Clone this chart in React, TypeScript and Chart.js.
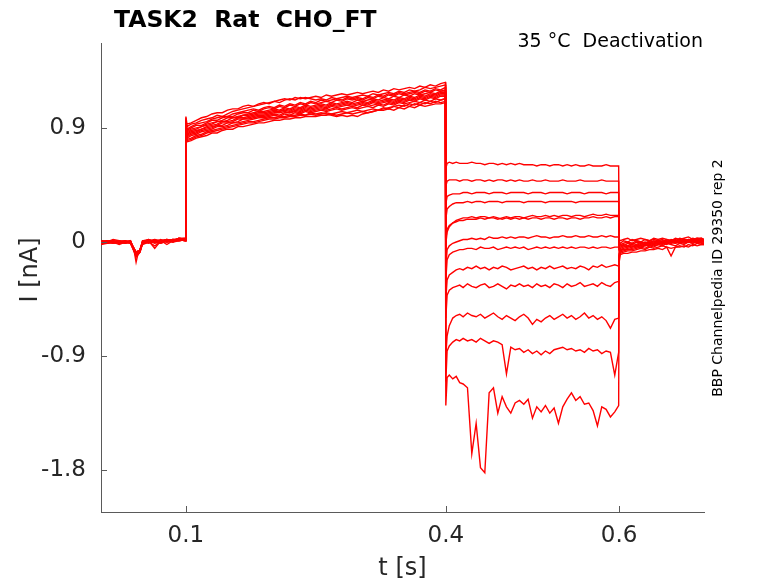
import React, { useEffect, useRef } from "react";
import Chart from "chart.js/auto";

// sample times (s) for the four protocol segments
const tPre = [
  0.002, 0.009, 0.016, 0.023, 0.03, 0.036, 0.04, 0.0425, 0.0445,
  0.047, 0.05, 0.057, 0.064, 0.071, 0.078, 0.085, 0.092, 0.0995,
];
const tStep = [
  0.1, 0.1012, 0.106, 0.112, 0.118, 0.124, 0.13, 0.136, 0.142, 0.148, 0.154, 0.16, 0.166,
  0.172, 0.178, 0.184, 0.19, 0.196, 0.202, 0.208, 0.214, 0.22, 0.226, 0.232, 0.238, 0.244,
  0.25, 0.256, 0.262, 0.268, 0.274, 0.28, 0.286, 0.292, 0.298, 0.304, 0.31, 0.316, 0.322,
  0.328, 0.334, 0.34, 0.346, 0.352, 0.358, 0.364, 0.37, 0.376, 0.382, 0.388, 0.394, 0.3995,
];
const tTail = [
  0.4, 0.4015, 0.404, 0.408, 0.412, 0.416, 0.42,
  0.425, 0.43, 0.435, 0.44, 0.445, 0.45, 0.455, 0.46, 0.465, 0.47, 0.475, 0.48,
  0.485, 0.49, 0.495, 0.5, 0.505, 0.51, 0.515, 0.52, 0.525, 0.53, 0.535, 0.54,
  0.545, 0.55, 0.555, 0.56, 0.565, 0.57, 0.575, 0.58, 0.585, 0.59, 0.595, 0.5995,
];
const tPost = [
  0.6, 0.6015, 0.605, 0.61, 0.615, 0.62, 0.625, 0.63, 0.635, 0.64,
  0.645, 0.65, 0.655, 0.66, 0.665, 0.67, 0.675, 0.68, 0.685, 0.69, 0.695, 0.698,
];

// current (nA), one row per sweep
const preCurrent = [
  [0.01, 0.0, 0.02, 0.01, 0.0, 0.01, -0.06, -0.16, -0.1, -0.08, 0.0, 0.01, 0.02, 0.01, 0.02, 0.01, 0.03, 0.02],
  [0.0, 0.01, -0.01, 0.0, 0.01, -0.01, -0.07, -0.11, -0.09, -0.07, -0.01, 0.0, -0.03, 0.0, 0.01, 0.02, 0.02, 0.01],
  [-0.01, 0.0, 0.01, -0.01, 0.0, 0.0, -0.05, -0.09, -0.08, -0.06, 0.01, 0.02, 0.0, 0.02, 0.0, 0.01, 0.03, 0.03],
  [0.01, -0.01, 0.0, 0.0, -0.01, 0.01, -0.06, -0.1, -0.08, -0.07, 0.0, -0.01, 0.01, -0.01, 0.01, 0.0, 0.01, 0.02],
  [0.0, 0.01, 0.0, 0.01, 0.0, -0.01, -0.05, -0.08, -0.09, -0.06, -0.01, 0.01, 0.0, 0.01, -0.02, 0.01, 0.02, 0.01],
  [-0.01, -0.01, 0.0, -0.02, 0.0, 0.0, -0.07, -0.12, -0.1, -0.08, 0.0, 0.0, 0.01, 0.0, 0.01, 0.02, 0.01, 0.02],
  [0.0, 0.0, -0.01, 0.0, 0.01, 0.0, -0.06, -0.09, -0.08, -0.07, 0.01, 0.01, -0.05, 0.01, 0.0, 0.01, 0.02, 0.03],
  [0.01, 0.0, 0.0, 0.01, -0.01, 0.0, -0.05, -0.08, -0.09, -0.06, 0.0, 0.02, 0.0, 0.01, 0.02, 0.0, 0.02, 0.01],
  [-0.02, -0.01, 0.0, -0.01, 0.0, 0.01, -0.06, -0.1, -0.07, -0.07, -0.02, 0.0, 0.01, 0.0, 0.01, 0.01, 0.01, 0.02],
  [0.0, 0.01, 0.01, 0.0, 0.0, -0.01, -0.07, -0.09, -0.08, -0.06, 0.0, 0.01, 0.0, -0.01, 0.01, 0.02, 0.02, 0.02],
  [-0.01, 0.0, -0.01, 0.0, 0.01, 0.0, -0.05, -0.08, -0.07, -0.07, 0.01, 0.0, 0.01, 0.01, 0.0, 0.01, 0.03, 0.02],
  [0.01, 0.0, 0.0, -0.01, 0.0, 0.01, -0.06, -0.11, -0.09, -0.08, -0.01, 0.01, -0.01, 0.0, 0.02, 0.01, 0.02, 0.01],
  [0.0, -0.01, 0.01, 0.0, -0.01, 0.0, -0.05, -0.09, -0.1, -0.06, 0.0, 0.0, 0.0, 0.01, 0.01, 0.0, 0.02, 0.02],
];

const stepCurrent = [
  [0.99, 0.93, 0.94, 0.96, 0.98, 0.99, 1.01, 1.02, 1.02, 1.04, 1.05, 1.05, 1.07,
   1.08, 1.07, 1.09, 1.1, 1.09, 1.11, 1.1, 1.12, 1.13, 1.12, 1.14, 1.13, 1.14,
   1.15, 1.14, 1.16, 1.15, 1.16, 1.17, 1.16, 1.17, 1.18, 1.17, 1.18, 1.19, 1.18,
   1.2, 1.19, 1.21, 1.2, 1.21, 1.22, 1.21, 1.23, 1.22, 1.24, 1.23, 1.25, 1.26],
  [0.97, 0.91, 0.93, 0.94, 0.96, 0.97, 0.98, 1.0, 0.99, 1.01, 1.03, 1.04, 1.05,
   1.06, 1.07, 1.08, 1.09, 1.1, 1.11, 1.12, 1.13, 1.12, 1.14, 1.13, 1.14, 1.13,
   1.12, 1.13, 1.12, 1.14, 1.13, 1.14, 1.15, 1.14, 1.15, 1.16, 1.15, 1.17, 1.16,
   1.17, 1.18, 1.17, 1.19, 1.18, 1.2, 1.19, 1.2, 1.22, 1.21, 1.22, 1.23, 1.24],
  [0.95, 0.89, 0.91, 0.93, 0.94, 0.95, 0.97, 0.98, 0.99, 0.99, 1.01, 1.02, 1.03,
   1.04, 1.05, 1.04, 1.06, 1.07, 1.06, 1.08, 1.07, 1.09, 1.08, 1.1, 1.09, 1.11,
   1.1, 1.12, 1.11, 1.12, 1.13, 1.12, 1.14, 1.13, 1.14, 1.13, 1.15, 1.14, 1.16,
   1.15, 1.17, 1.16, 1.18, 1.17, 1.18, 1.19, 1.18, 1.2, 1.19, 1.21, 1.2, 1.22],
  [0.98, 0.88, 0.9, 0.92, 0.92, 0.94, 0.96, 0.96, 0.98, 0.99, 0.99, 1.01, 1.02,
   1.02, 1.04, 1.03, 1.05, 1.06, 1.05, 1.07, 1.06, 1.08, 1.07, 1.09, 1.08, 1.1,
   1.09, 1.1, 1.11, 1.1, 1.12, 1.11, 1.13, 1.12, 1.13, 1.12, 1.14, 1.13, 1.15,
   1.14, 1.16, 1.15, 1.17, 1.16, 1.17, 1.18, 1.17, 1.19, 1.18, 1.2, 1.19, 1.2],
  [0.94, 0.87, 0.89, 0.9, 0.91, 0.93, 0.94, 0.95, 0.96, 0.98, 0.98, 0.99, 1.0,
   1.01, 1.02, 1.03, 1.03, 1.04, 1.05, 1.04, 1.06, 1.05, 1.07, 1.06, 1.08, 1.07,
   1.08, 1.09, 1.08, 1.1, 1.09, 1.1, 1.11, 1.1, 1.12, 1.11, 1.12, 1.13, 1.12,
   1.14, 1.13, 1.15, 1.14, 1.16, 1.15, 1.17, 1.16, 1.17, 1.18, 1.17, 1.19, 1.19],
  [0.96, 0.86, 0.88, 0.89, 0.91, 0.92, 0.93, 0.95, 0.95, 0.96, 0.98, 0.98, 1.0,
   1.0, 1.01, 1.02, 1.02, 1.03, 1.04, 1.03, 1.05, 1.04, 1.06, 1.05, 1.07, 1.06,
   1.07, 1.08, 1.07, 1.09, 1.08, 1.09, 1.1, 1.09, 1.1, 1.11, 1.1, 1.12, 1.11,
   1.12, 1.13, 1.12, 1.14, 1.13, 1.15, 1.14, 1.16, 1.15, 1.17, 1.16, 1.18, 1.18],
  [0.93, 0.85, 0.87, 0.88, 0.89, 0.91, 0.92, 0.93, 0.95, 0.95, 0.96, 0.98, 0.98,
   0.99, 1.0, 1.01, 1.01, 1.02, 1.03, 1.03, 1.04, 1.03, 1.05, 1.04, 1.06, 1.05,
   1.06, 1.07, 1.06, 1.08, 1.07, 1.08, 1.09, 1.08, 1.09, 1.1, 1.09, 1.11, 1.1,
   1.11, 1.12, 1.11, 1.13, 1.12, 1.14, 1.13, 1.15, 1.14, 1.16, 1.15, 1.17, 1.17],
  [0.95, 0.84, 0.86, 0.87, 0.89, 0.9, 0.91, 0.92, 0.94, 0.94, 0.95, 0.97, 0.97,
   0.98, 0.99, 1.0, 1.0, 1.01, 1.02, 1.02, 1.03, 1.02, 1.04, 1.03, 1.05, 1.04,
   1.05, 1.06, 1.05, 1.07, 1.06, 1.07, 1.08, 1.07, 1.08, 1.09, 1.08, 1.1, 1.09,
   1.1, 1.11, 1.1, 1.12, 1.11, 1.13, 1.12, 1.14, 1.13, 1.15, 1.14, 1.16, 1.16],
  [0.92, 0.83, 0.85, 0.86, 0.88, 0.89, 0.9, 0.92, 0.92, 0.94, 0.94, 0.95, 0.97,
   0.97, 0.98, 0.99, 0.99, 1.0, 1.01, 1.0, 1.02, 1.02, 1.03, 1.02, 1.04, 1.03,
   1.04, 1.05, 1.04, 1.05, 1.06, 1.05, 1.06, 1.07, 1.06, 1.08, 1.07, 1.08, 1.09,
   1.08, 1.1, 1.09, 1.11, 1.1, 1.12, 1.11, 1.13, 1.12, 1.14, 1.13, 1.15, 1.15],
  [0.94, 0.82, 0.84, 0.85, 0.87, 0.88, 0.89, 0.91, 0.91, 0.92, 0.94, 0.94, 0.95,
   0.96, 0.97, 0.98, 0.98, 0.99, 1.0, 0.99, 1.01, 1.0, 1.02, 1.01, 1.03, 1.02,
   1.03, 1.04, 1.03, 1.04, 1.05, 1.04, 1.05, 1.06, 1.05, 1.06, 1.07, 1.06, 1.08,
   1.07, 1.09, 1.08, 1.1, 1.09, 1.1, 1.11, 1.1, 1.12, 1.11, 1.13, 1.12, 1.13],
  [0.91, 0.81, 0.82, 0.84, 0.85, 0.87, 0.88, 0.89, 0.9, 0.91, 0.92, 0.93, 0.94,
   0.95, 0.95, 0.96, 0.97, 0.98, 0.98, 0.99, 0.99, 1.0, 1.0, 1.01, 1.0, 1.02,
   1.01, 1.02, 1.01, 1.0, 0.99, 1.0, 0.99, 1.0, 0.99, 1.01, 1.02, 1.03, 1.04,
   1.05, 1.06, 1.07, 1.08, 1.07, 1.09, 1.08, 1.1, 1.09, 1.11, 1.1, 1.12, 1.13],
  [0.93, 0.8, 0.81, 0.83, 0.84, 0.86, 0.87, 0.88, 0.89, 0.9, 0.91, 0.92, 0.93,
   0.94, 0.94, 0.95, 0.96, 0.97, 0.97, 0.98, 0.98, 0.99, 0.99, 1.0, 1.0, 1.01,
   1.0, 1.01, 1.02, 1.01, 1.02, 1.03, 1.02, 1.03, 1.04, 1.03, 1.04, 1.05, 1.04,
   1.06, 1.05, 1.07, 1.06, 1.08, 1.07, 1.09, 1.08, 1.1, 1.09, 1.11, 1.1, 1.11],
  [0.9, 0.79, 0.8, 0.82, 0.83, 0.84, 0.86, 0.86, 0.88, 0.89, 0.89, 0.91, 0.91,
   0.92, 0.93, 0.94, 0.94, 0.95, 0.96, 0.96, 0.97, 0.97, 0.98, 0.98, 0.99, 0.99,
   0.99, 1.0, 1.0, 1.01, 1.0, 1.01, 1.02, 1.01, 1.02, 1.03, 1.02, 1.03, 1.04,
   1.04, 1.05, 1.04, 1.06, 1.05, 1.07, 1.06, 1.08, 1.07, 1.08, 1.09, 1.09, 1.1],
];

const tailCurrent = [
  [0.58, 0.62, 0.63, 0.62, 0.63, 0.62, 0.62,
   0.62, 0.63, 0.62, 0.62, 0.61, 0.62, 0.62, 0.61, 0.62, 0.61, 0.62, 0.61,
   0.62, 0.61, 0.61, 0.61, 0.6, 0.61, 0.61, 0.6, 0.61, 0.61, 0.6, 0.61,
   0.6, 0.61, 0.6, 0.6, 0.61, 0.6, 0.6, 0.6, 0.61, 0.6, 0.6, 0.6],
  [0.44, 0.48, 0.49, 0.49, 0.49, 0.48, 0.49,
   0.49, 0.48, 0.49, 0.49, 0.48, 0.49, 0.48, 0.49, 0.49, 0.48, 0.49, 0.48,
   0.49, 0.48, 0.48, 0.49, 0.48, 0.48, 0.49, 0.48, 0.48, 0.48, 0.49, 0.48,
   0.48, 0.48, 0.49, 0.48, 0.48, 0.48, 0.48, 0.49, 0.48, 0.48, 0.48, 0.48],
  [0.3, 0.36, 0.37, 0.38, 0.38, 0.38, 0.39,
   0.39, 0.38, 0.39, 0.39, 0.39, 0.38, 0.39, 0.39, 0.39, 0.38, 0.39, 0.39,
   0.39, 0.39, 0.38, 0.39, 0.39, 0.39, 0.38, 0.39, 0.39, 0.39, 0.39, 0.38,
   0.39, 0.39, 0.39, 0.38, 0.39, 0.39, 0.39, 0.39, 0.38, 0.39, 0.39, 0.39],
  [0.18, 0.26, 0.28, 0.3, 0.31, 0.31, 0.31,
   0.32, 0.31, 0.32, 0.32, 0.31, 0.32, 0.32, 0.32, 0.31, 0.32, 0.32, 0.32,
   0.32, 0.31, 0.32, 0.32, 0.32, 0.32, 0.31, 0.32, 0.32, 0.32, 0.32, 0.32,
   0.32, 0.31, 0.32, 0.32, 0.32, 0.32, 0.32, 0.32, 0.32, 0.32, 0.32, 0.32],
  [0.02, 0.1, 0.13, 0.15, 0.16, 0.17, 0.17,
   0.18, 0.18, 0.18, 0.19, 0.18, 0.19, 0.19, 0.18, 0.19, 0.2, 0.19, 0.2,
   0.2, 0.19, 0.2, 0.21, 0.2, 0.2, 0.21, 0.2, 0.21, 0.2, 0.21, 0.21,
   0.2, 0.21, 0.21, 0.2, 0.21, 0.22, 0.21, 0.21, 0.22, 0.21, 0.21, 0.21],
  [-0.02, 0.08, 0.12, 0.15, 0.17, 0.18, 0.19,
   0.19, 0.2, 0.19, 0.2, 0.2, 0.19, 0.2, 0.19, 0.18, 0.19, 0.18, 0.19,
   0.18, 0.19, 0.18, 0.19, 0.19, 0.18, 0.19, 0.19, 0.18, 0.19, 0.19, 0.18,
   0.19, 0.19, 0.18, 0.19, 0.19, 0.2, 0.19, 0.19, 0.2, 0.19, 0.2, 0.2],
  [-0.2, -0.06, -0.03, -0.01, 0.0, 0.01, 0.02,
   0.02, 0.03, 0.02, 0.03, 0.02, 0.04, 0.03, 0.03, 0.04, 0.03, 0.04, 0.03,
   0.04, 0.04, 0.03, 0.04, 0.05, 0.04, 0.04, 0.03, 0.04, 0.04, 0.05, 0.04,
   0.04, 0.05, 0.04, 0.04, 0.05, 0.04, 0.04, 0.05, 0.04, 0.05, 0.04, 0.04],
  [-0.3, -0.14, -0.1, -0.08, -0.07, -0.06, -0.06,
   -0.05, -0.05, -0.06, -0.04, -0.05, -0.05, -0.04, -0.06, -0.05, -0.04, -0.05, -0.04,
   -0.05, -0.04, -0.06, -0.05, -0.04, -0.05, -0.04, -0.05, -0.04, -0.05, -0.04, -0.05,
   -0.04, -0.05, -0.04, -0.04, -0.05, -0.04, -0.05, -0.04, -0.04, -0.05, -0.04, -0.04],
  [-0.45, -0.3, -0.26, -0.24, -0.22, -0.21, -0.22,
   -0.2, -0.21, -0.19, -0.21, -0.2, -0.22, -0.2, -0.21, -0.19, -0.2, -0.22, -0.21,
   -0.2, -0.19, -0.21, -0.2, -0.22, -0.2, -0.21, -0.19, -0.21, -0.2, -0.19, -0.21,
   -0.2, -0.21, -0.19, -0.2, -0.22, -0.19, -0.2, -0.18, -0.2, -0.19, -0.18, -0.19],
  [-0.6, -0.42, -0.38, -0.36, -0.35, -0.34, -0.36,
   -0.33, -0.35, -0.36, -0.34, -0.33, -0.36, -0.35, -0.33, -0.35, -0.37, -0.34, -0.35,
   -0.33, -0.35, -0.34, -0.36, -0.33, -0.35, -0.34, -0.36, -0.33, -0.34, -0.36, -0.33,
   -0.35, -0.34, -0.32, -0.35, -0.34, -0.33, -0.35, -0.32, -0.34, -0.35, -0.32, -0.31],
  [-0.9, -0.74, -0.66, -0.6, -0.58, -0.57, -0.59,
   -0.56, -0.58, -0.59, -0.57, -0.6, -0.58, -0.56, -0.59, -0.61, -0.58, -0.6, -0.62,
   -0.59, -0.57, -0.6, -0.65, -0.61, -0.63, -0.6, -0.58, -0.61, -0.59, -0.57, -0.6,
   -0.58, -0.61, -0.59, -0.56, -0.6, -0.58, -0.61, -0.59, -0.62, -0.68, -0.61, -0.6],
  [-1.1, -0.86, -0.82, -0.79, -0.77, -0.78, -0.76,
   -0.78, -0.77, -0.79, -0.76, -0.78, -0.8, -0.78, -0.79, -0.81, -1.04, -0.83, -0.85,
   -0.84, -0.87, -0.85, -0.88, -0.86, -0.89, -0.86, -0.88, -0.85, -0.84, -0.83, -0.85,
   -0.84, -0.86, -0.85, -0.87, -0.84, -0.86, -0.85, -0.88, -0.86, -0.87, -1.05, -0.87],
  [-1.29, -1.07, -1.05, -1.08, -1.06, -1.11, -1.12,
   -1.15, -1.67, -1.43, -1.78, -1.82, -1.19, -1.15, -1.35, -1.22, -1.3, -1.35, -1.27,
   -1.25, -1.28, -1.24, -1.39, -1.3, -1.34, -1.29, -1.35, -1.31, -1.43, -1.3, -1.24,
   -1.19, -1.25, -1.22, -1.28, -1.27, -1.33, -1.45, -1.3, -1.32, -1.38, -1.34, -1.29],
];

const postCurrent = [
  [0.02, 0.01, 0.02, 0.03, 0.01, 0.02, 0.03, 0.02, 0.01, 0.03, 0.02, 0.03, 0.02, 0.01, 0.03, 0.02, 0.03, 0.04, 0.02, 0.03, 0.03, 0.02],
  [0.0, -0.01, 0.01, 0.0, 0.02, 0.01, 0.0, 0.02, 0.01, 0.02, 0.01, 0.02, 0.0, 0.02, 0.01, 0.03, 0.02, 0.01, 0.03, 0.02, 0.03, 0.02],
  [-0.02, -0.02, -0.01, 0.0, -0.01, 0.01, 0.0, -0.01, 0.01, 0.0, 0.01, 0.0, 0.02, 0.01, 0.0, 0.01, 0.02, 0.01, 0.02, 0.03, 0.02, 0.01],
  [-0.03, -0.02, -0.03, -0.01, -0.02, 0.0, -0.01, 0.0, -0.01, 0.01, 0.0, 0.01, 0.0, 0.01, 0.02, 0.0, 0.01, 0.02, 0.01, 0.02, 0.01, 0.02],
  [-0.04, -0.03, -0.02, -0.03, -0.01, -0.02, 0.0, -0.01, 0.0, -0.01, 0.01, 0.0, 0.01, -0.01, 0.01, 0.02, 0.0, 0.01, 0.02, 0.01, 0.02, 0.01],
  [-0.05, -0.04, -0.03, -0.04, -0.02, -0.03, -0.01, -0.02, 0.0, -0.01, -0.01, 0.0, 0.01, 0.0, 0.01, 0.0, 0.02, 0.01, 0.0, 0.02, 0.01, 0.01],
  [-0.06, -0.05, -0.04, -0.03, -0.04, -0.02, -0.03, -0.01, -0.02, -0.01, 0.0, -0.01, 0.0, 0.01, 0.0, 0.01, 0.0, 0.02, 0.01, 0.01, 0.0, 0.01],
  [-0.07, -0.06, -0.05, -0.04, -0.03, -0.04, -0.02, -0.03, -0.01, -0.02, -0.01, 0.0, -0.01, 0.0, -0.01, 0.01, 0.0, 0.0, 0.01, 0.0, 0.01, 0.01],
  [-0.08, -0.06, -0.06, -0.05, -0.04, -0.03, -0.04, -0.02, -0.03, -0.02, -0.01, -0.02, 0.0, -0.01, 0.0, -0.01, 0.01, 0.0, -0.01, 0.01, 0.0, 0.0],
  [-0.09, -0.07, -0.06, -0.06, -0.05, -0.04, -0.04, -0.03, -0.02, -0.03, -0.02, -0.01, -0.02, 0.0, -0.01, 0.0, -0.01, 0.0, 0.01, -0.01, 0.0, 0.0],
  [-0.1, -0.08, -0.07, -0.06, -0.06, -0.05, -0.04, -0.05, -0.03, -0.04, -0.02, -0.03, -0.01, -0.02, -0.03, -0.01, -0.02, 0.0, -0.01, 0.0, -0.01, -0.01],
  [-0.11, -0.09, -0.08, -0.07, -0.07, -0.06, -0.05, -0.06, -0.04, -0.05, -0.04, -0.03, -0.04, -0.11, -0.04, -0.03, -0.04, -0.02, -0.03, -0.01, -0.02, -0.02],
  [-0.16, -0.1, -0.09, -0.09, -0.08, -0.08, -0.07, -0.07, -0.06, -0.06, -0.05, -0.06, -0.04, -0.05, -0.04, -0.04, -0.03, -0.04, -0.02, -0.03, -0.02, -0.02],
];

const xTicks = [0.1, 0.4, 0.6];
const yTicks = [-1.8, -0.9, 0, 0.9];

const FONT = "'DejaVu Sans', sans-serif";
const INK = "#262626";
const AXIS = "#5a5a5a";

const zip = (t: number[], v: number[]) =>
  v.slice(0, t.length).map((y, i) => ({ x: t[i], y }));

const decor = {
  id: "decor",
  afterDraw(chart: any) {
    const { ctx, chartArea: a, scales } = chart;
    ctx.save();
    ctx.strokeStyle = AXIS;
    ctx.lineWidth = 1;
    ctx.beginPath();
    for (const v of yTicks) {
      const py = Math.round(scales.y.getPixelForValue(v)) + 0.5;
      ctx.moveTo(a.left, py);
      ctx.lineTo(a.left + 6, py);
    }
    for (const v of xTicks) {
      const px = Math.round(scales.x.getPixelForValue(v)) + 0.5;
      ctx.moveTo(px, a.bottom);
      ctx.lineTo(px, a.bottom - 6);
    }
    ctx.stroke();

    ctx.fillStyle = "#000";
    ctx.textBaseline = "alphabetic";
    ctx.font = `bold 23.5px ${FONT}`;
    ctx.textAlign = "left";
    ctx.fillText("TASK2  Rat  CHO_FT", 114, 27);

    ctx.font = `19px ${FONT}`;
    ctx.textAlign = "right";
    ctx.fillText("35 °C  Deactivation", 703, 47);

    ctx.fillStyle = INK;
    ctx.font = `24px ${FONT}`;
    ctx.textAlign = "center";
    ctx.fillText("t [s]", (a.left + a.right) / 2, 575);

    ctx.save();
    ctx.translate(37, 270);
    ctx.rotate(-Math.PI / 2);
    ctx.fillText("I [nA]", 0, 0);
    ctx.restore();

    ctx.save();
    ctx.fillStyle = "#000";
    ctx.font = `14px ${FONT}`;
    ctx.translate(722, 278);
    ctx.rotate(-Math.PI / 2);
    ctx.fillText("BBP Channelpedia ID 29350 rep 2", 0, 0);
    ctx.restore();

    ctx.restore();
  },
};

const App: React.FC = () => {
  const chartRef = useRef<HTMLCanvasElement>(null);
  const chartInstanceRef = useRef<Chart | null>(null);

  useEffect(() => {
    document.body.style.margin = "0";
    if (!chartRef.current) return;
    const ctx = chartRef.current.getContext("2d");

    if (chartInstanceRef.current) {
      chartInstanceRef.current.destroy();
    }

    const datasets = preCurrent.map((_, i) => ({
      label: `sweep ${i + 1}`,
      data: [
        ...zip(tPre, preCurrent[i]),
        ...zip(tStep, stepCurrent[i]),
        ...zip(tTail, tailCurrent[i]),
        ...zip(tPost, postCurrent[i]),
      ],
      borderColor: "#ff0000",
      borderWidth: 1.4,
      pointRadius: 0,
      tension: 0,
      fill: false,
    }));

    chartInstanceRef.current = new Chart(ctx!, {
      type: "line",
      data: { datasets },
      options: {
        animation: false,
        responsive: false,
        devicePixelRatio: 1,
        layout: { padding: { left: 0, top: 43, right: 74, bottom: 0 } },
        plugins: {
          legend: { display: false },
          title: { display: false },
          tooltip: { enabled: false },
        },
        scales: {
          x: {
            type: "linear",
            min: 0.002,
            max: 0.698,
            grid: { display: false, drawTicks: false },
            border: { display: true, color: AXIS, width: 1 },
            afterBuildTicks: (s: any) => {
              s.ticks = xTicks.map((value) => ({ value }));
            },
            afterFit: (s: any) => {
              s.height = 71;
            },
            ticks: {
              color: INK,
              padding: 10,
              font: { family: FONT, size: 23 },
              maxRotation: 0,
              callback: (v: any) => String(v),
            },
          },
          y: {
            type: "linear",
            min: -2.13,
            max: 1.57,
            grid: { display: false, drawTicks: false },
            border: { display: true, color: AXIS, width: 1 },
            afterBuildTicks: (s: any) => {
              s.ticks = yTicks.map((value) => ({ value }));
            },
            afterFit: (s: any) => {
              s.width = 101;
            },
            ticks: {
              color: INK,
              padding: 15,
              font: { family: FONT, size: 23 },
              callback: (v: any) => String(v),
            },
          },
        },
      },
      plugins: [decor],
    });

    return () => {
      if (chartInstanceRef.current) {
        chartInstanceRef.current.destroy();
        chartInstanceRef.current = null;
      }
    };
  }, []);

  return (
    <div style={{ width: "778px", height: "583px", background: "#fff" }}>
      <canvas ref={chartRef} width={778} height={583} style={{ width: "778px", height: "583px" }} />
    </div>
  );
};

export default App;
